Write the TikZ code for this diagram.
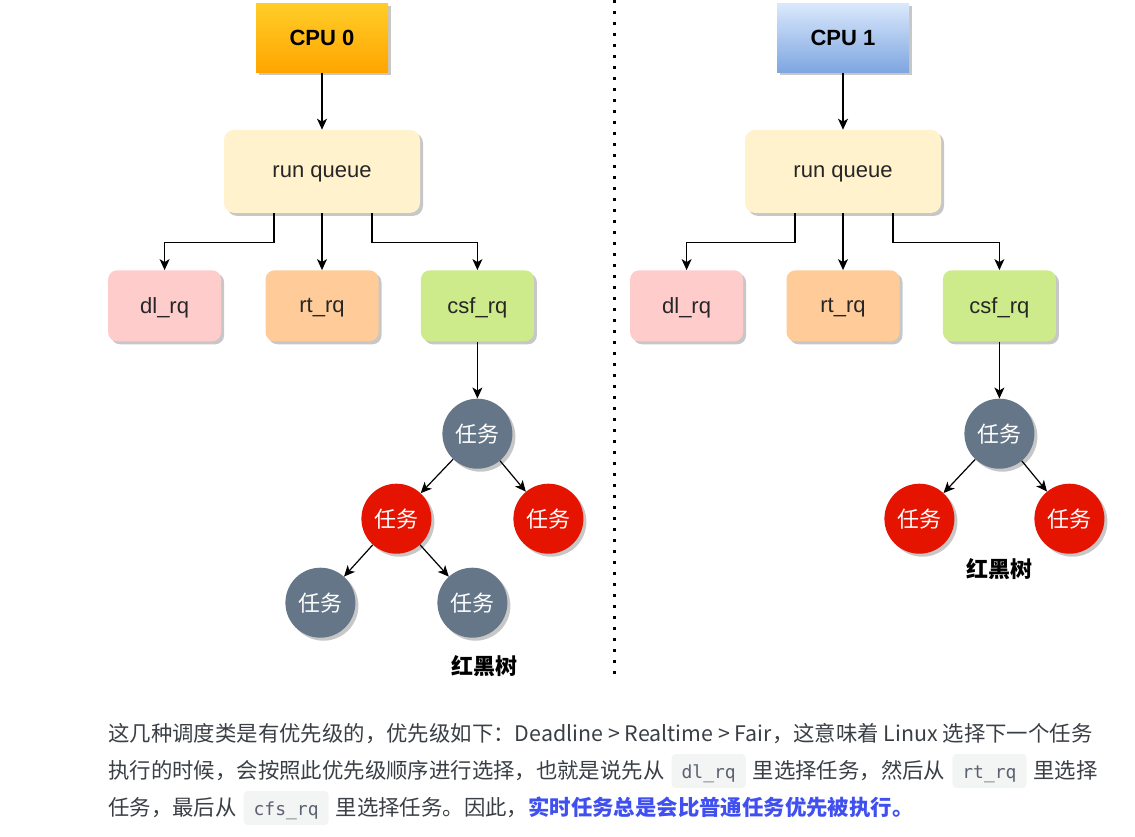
\documentclass[tikz,border=0pt]{standalone}
\usepackage{fontspec}
\setmainfont{Liberation Sans}
\newfontfamily\cjk{Noto Sans CJK SC}
\newfontfamily\codefont{DejaVu Sans Mono}
\usetikzlibrary{arrows.meta, positioning, calc, shadows}
\definecolor{cpuOtop}{HTML}{FFCD28}
\definecolor{cpuObot}{HTML}{FFA500}
\definecolor{cpuItop}{HTML}{DAE8FC}
\definecolor{cpuIbot}{HTML}{7EA6E0}
\definecolor{rqfill}{HTML}{FFF2CC}
\definecolor{dlfill}{HTML}{FFCCCC}
\definecolor{rtfill}{HTML}{FFCC99}
\definecolor{cfsfill}{HTML}{CDEB8B}
\definecolor{taskgray}{HTML}{647687}
\definecolor{taskred}{HTML}{E51400}
\definecolor{paratext}{HTML}{3A3F45}
\definecolor{codebg}{HTML}{F3F4F4}
\definecolor{codetext}{HTML}{5A6270}
\definecolor{hl}{HTML}{4050F0}
\newcommand{\codebit}[1]{\hspace{7pt}\tikz[baseline=0pt]\node[fill=codebg, rounded corners=4pt, inner xsep=10pt, inner ysep=0pt, anchor=base, text height=24pt, text depth=10pt, text=codetext, font=\codefont\fontsize{18}{21}\selectfont]{#1};\hspace{7pt}}

\begin{document}
\begin{tikzpicture}[x=1pt, y=-1pt,
  boxshadow/.style={drop shadow={shadow xshift=3pt, shadow yshift=-3pt, fill=black!22, opacity=1}},
  cpu/.style={boxshadow, inner sep=0pt, minimum width=132pt, minimum height=69pt, text=black, text depth=0pt, font=\fontsize{22}{26}\selectfont\bfseries},
  runq/.style={boxshadow, fill=rqfill, rounded corners=10pt, minimum width=196pt, minimum height=83pt, text=black!85, text depth=0pt, font=\fontsize{22}{26}\selectfont},
  subq/.style={boxshadow, rounded corners=9pt, minimum width=113pt, minimum height=71pt, text=black!85, text depth=0pt, font=\fontsize{22}{26}\selectfont},
  task/.style={boxshadow, circle, inner sep=0pt, minimum size=70pt, text=white, font=\cjk\fontsize{22}{26}\selectfont},
  graytask/.style={task, fill=taskgray},
  redtask/.style={task, fill=taskred},
  treelbl/.style={font=\cjk\fontsize{22}{26}\selectfont\bfseries, text=black},
  rel/.style={draw=black, line width=1.2pt, -{Stealth[length=11pt, width=10pt, inset=3pt]}},
  sep/.style={draw=black, line width=3pt, dash pattern=on 3pt off 8pt},
  para/.style={anchor=base west, inner sep=0pt, text=paratext, font=\cjk\fontsize{21.4}{25}\selectfont}]
  \useasboundingbox (0,0) rectangle (1135,837);
  % CPU 0
  \node[cpu, top color=cpuOtop, bottom color=cpuObot] (cpu0) at (322,38) {CPU 0};
  \node[runq, below=57pt of cpu0] (rq0) {run queue};
  \node[subq, fill=rtfill, below=57pt of rq0] (rt0) {rt\_rq};
  \node[subq, fill=dlfill, left=44pt of rt0] (dl0) {dl\_rq};
  \node[subq, fill=cfsfill, right=42pt of rt0] (cs0) {csf\_rq};
  \node[graytask, below=57pt of cs0] (root0) {任务};
  \node[redtask] (left0) at ($(root0)+(-81,85)$) {任务};
  \node[redtask] (right0) at ($(root0)+(71,85)$) {任务};
  \node[graytask] (ll0) at ($(left0)+(-76,84)$) {任务};
  \node[graytask] (lr0) at ($(left0)+(76,84)$) {任务};
  \node[treelbl] (rb0) at ($(lr0)+(12,63)$) {红黑树};
  \draw[rel] (cpu0) -- (rq0);
  \draw[rel] ([xshift=-48pt]rq0.south) -- ++(0,29) -| (dl0.north);
  \draw[rel] (rq0) -- (rt0);
  \draw[rel] ([xshift=50pt]rq0.south) -- ++(0,29) -| (cs0.north);
  \draw[rel] (cs0) -- (root0);
  \draw[rel] (root0) -- (left0);
  \draw[rel] (root0) -- (right0);
  \draw[rel] (left0) -- (ll0);
  \draw[rel] (left0) -- (lr0);
  % separator
  \coordinate (septop) at (614,0);
  \coordinate (sepbot) at (614,680);
  \draw[sep] (septop) -- (sepbot);
  % CPU 1
  \node[cpu, top color=cpuItop, bottom color=cpuIbot] (cpu1) at (843,38) {CPU 1};
  \node[runq, below=57pt of cpu1] (rq1) {run queue};
  \node[subq, fill=rtfill, below=57pt of rq1] (rt1) {rt\_rq};
  \node[subq, fill=dlfill, left=43pt of rt1] (dl1) {dl\_rq};
  \node[subq, fill=cfsfill, right=43pt of rt1] (cs1) {csf\_rq};
  \node[graytask, below=57pt of cs1] (root1) {任务};
  \node[redtask] (left1) at ($(root1)+(-80,85)$) {任务};
  \node[redtask] (right1) at ($(root1)+(70,85)$) {任务};
  \node[treelbl] (rb1) at ($(root1)+(0,135)$) {红黑树};
  \draw[rel] (cpu1) -- (rq1);
  \draw[rel] ([xshift=-48pt]rq1.south) -- ++(0,29) -| (dl1.north);
  \draw[rel] (rq1) -- (rt1);
  \draw[rel] ([xshift=50pt]rq1.south) -- ++(0,29) -| (cs1.north);
  \draw[rel] (cs1) -- (root1);
  \draw[rel] (root1) -- (left1);
  \draw[rel] (root1) -- (right1);
  % paragraph
  \node[para] (line1) at (108,741) {这几种调度类是有优先级的，优先级如下：Deadline > Realtime > Fair，这意味着 Linux 选择下一个任务};
  \node[para] (line2) at (108,778) {执行的时候，会按照此优先级顺序进行选择，也就是说先从\codebit{dl\_rq}里选择任务，然后从\codebit{rt\_rq}里选择};
  \node[para] (line3) at (108,815) {任务，最后从\codebit{cfs\_rq}里选择任务。因此，{\color{hl}\bfseries 实时任务总是会比普通任务优先被执行。}};
\end{tikzpicture}
\end{document}
